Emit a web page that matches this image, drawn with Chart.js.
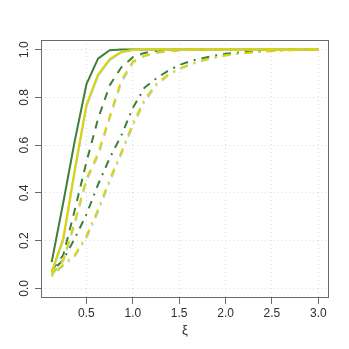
<!DOCTYPE html>
<html>
<head>
<meta charset="utf-8">
<script src="https://cdn.jsdelivr.net/npm/chart.js@4.4.1/dist/chart.umd.min.js"></script>
<style>
    html, body { margin: 0; padding: 0; background: #ffffff; }
    #wrap { width: 349px; height: 349px; }
</style>
</head>
<body>
<div id="wrap"><canvas id="powerChart" width="349" height="349"></canvas></div>
<script>
/* ===============================
   DATA
================================ */
const xi = [0.125, 0.25, 0.375, 0.5, 0.625, 0.75, 0.875, 1, 1.125, 1.25, 1.375, 1.5,
    1.625, 1.75, 1.875, 2, 2.125, 2.25, 2.375, 2.5, 2.625, 2.75, 2.875, 3];

const greenSolid = [0.11, 0.36, 0.62, 0.855, 0.962, 0.997, 1, 1, 1, 1, 1, 1,
    1, 1, 1, 1, 1, 1, 1, 1, 1, 1, 1, 1];
const blueSolid = [0.065, 0.2, 0.49, 0.76, 0.89, 0.955, 0.988, 0.998, 1, 1, 1, 1,
    1, 1, 1, 1, 1, 1, 1, 1, 1, 1, 1, 1];
const yellowSolid = [0.07, 0.21, 0.5, 0.77, 0.895, 0.96, 0.99, 0.999, 1, 1, 1, 1,
    1, 1, 1, 1, 1, 1, 1, 1, 1, 1, 1, 1];

const greenDashed = [0.075, 0.14, 0.33, 0.53, 0.71, 0.85, 0.925, 0.968, 0.986, 0.994, 0.998, 1,
    1, 1, 1, 1, 1, 1, 1, 1, 1, 1, 1, 1];
const blueDashed = [0.055, 0.115, 0.27, 0.45, 0.555, 0.71, 0.86, 0.945, 0.972, 0.985, 0.992, 0.996,
    0.999, 1, 1, 1, 1, 1, 1, 1, 1, 1, 1, 1];
const yellowDashed = [0.06, 0.12, 0.28, 0.46, 0.565, 0.72, 0.87, 0.95, 0.975, 0.987, 0.993, 0.997,
    0.999, 1, 1, 1, 1, 1, 1, 1, 1, 1, 1, 1];

const greenDotDash = [0.07, 0.12, 0.21, 0.31, 0.435, 0.545, 0.64, 0.755, 0.84, 0.878, 0.91, 0.935,
    0.952, 0.964, 0.974, 0.982, 0.987, 0.991, 0.994, 0.996, 0.998, 0.999, 1, 1];
const blueDotDash = [0.05, 0.095, 0.135, 0.21, 0.32, 0.445, 0.56, 0.68, 0.78, 0.848, 0.89, 0.917,
    0.937, 0.953, 0.965, 0.975, 0.981, 0.986, 0.99, 0.993, 0.996, 0.998, 0.999, 1];
const yellowDotDash = [0.055, 0.1, 0.14, 0.22, 0.33, 0.455, 0.57, 0.69, 0.79, 0.855, 0.893, 0.92,
    0.94, 0.955, 0.967, 0.976, 0.982, 0.987, 0.991, 0.994, 0.996, 0.998, 0.999, 1];

const xTicks = [0.5, 1.0, 1.5, 2.0, 2.5, 3.0];
const yTicks = [0.0, 0.2, 0.4, 0.6, 0.8, 1.0];

/* ===============================
   STYLE
================================ */
const GREEN = "#3c7f3c";
const YELLOW = "#e0d300";
const BLUE = "#a9d6ee";
const FRAME = "#6a6a6a";
const TEXT = "#2e2e2e";
const GRID = "#dcdcdc";

const SOLID = [];
const DASHED = [8, 7];
const DOTDASH = [2, 6, 8, 6];

function series(values, color, dash) {
    return {
        data: xi.map((x, i) => ({ x: x, y: values[i] })),
        borderColor: color,
        borderWidth: 2,
        borderDash: dash,
        borderCapStyle: "butt",
        borderJoinStyle: "round",
        pointRadius: 0,
        tension: 0,
        fill: false
    };
}

// first dataset is drawn on top
const datasets = [
    series(yellowSolid, YELLOW, SOLID),
    series(yellowDashed, YELLOW, DASHED),
    series(yellowDotDash, YELLOW, DOTDASH),
    series(blueSolid, BLUE, SOLID),
    series(blueDashed, BLUE, DASHED),
    series(blueDotDash, BLUE, DOTDASH),
    series(greenSolid, GREEN, SOLID),
    series(greenDashed, GREEN, DASHED),
    series(greenDotDash, GREEN, DOTDASH)
];

/* ===============================
   FRAME PLUGIN (box round plot)
================================ */
const framePlugin = {
    id: "frame",
    afterDraw(chart) {
        const a = chart.chartArea;
        const ctx = chart.ctx;
        ctx.save();
        ctx.strokeStyle = FRAME;
        ctx.lineWidth = 1;
        ctx.setLineDash([]);
        ctx.strokeRect(a.left + 0.5, a.top + 0.5, a.right - a.left - 1, a.bottom - a.top - 1);
        ctx.restore();
    }
};

const tickFont = { family: "'Liberation Sans', Arial, sans-serif", size: 12 };

new Chart(document.getElementById("powerChart"), {
    type: "line",
    data: { datasets: datasets },
    plugins: [framePlugin],
    options: {
        responsive: false,
        animation: false,
        events: [],
        layout: { padding: { top: 40, right: 20, bottom: 0, left: 0 } },
        plugins: {
            legend: { display: false },
            tooltip: { enabled: false }
        },
        scales: {
            x: {
                type: "linear",
                min: 0.01,
                max: 3.115,
                afterBuildTicks: s => { s.ticks = xTicks.map(v => ({ value: v })); },
                afterFit: s => { s.height = 51; },
                grid: {
                    color: GRID,
                    lineWidth: 1,
                    drawTicks: true,
                    tickLength: 6,
                    tickColor: FRAME,
                    tickWidth: 1
                },
                border: { display: false, dash: [1, 3] },
                ticks: {
                    color: TEXT,
                    font: tickFont,
                    padding: 2,
                    maxRotation: 0,
                    autoSkip: false,
                    callback: v => v.toFixed(1)
                },
                title: {
                    display: true,
                    text: "ξ",
                    color: TEXT,
                    font: { family: "'Liberation Sans', Arial, sans-serif", size: 13 },
                    padding: { top: 0, bottom: 11 }
                }
            },
            y: {
                type: "linear",
                min: -0.04,
                max: 1.04,
                afterBuildTicks: s => { s.ticks = yTicks.map(v => ({ value: v })); },
                afterFit: s => { s.width = 41; },
                grid: {
                    color: GRID,
                    lineWidth: 1,
                    drawTicks: true,
                    tickLength: 6,
                    tickColor: FRAME,
                    tickWidth: 1
                },
                border: { display: false, dash: [1, 3] },
                ticks: {
                    color: TEXT,
                    font: tickFont,
                    padding: 2,
                    minRotation: 90,
                    maxRotation: 90,
                    crossAlign: "center",
                    autoSkip: false,
                    callback: v => v.toFixed(1)
                }
            }
        }
    }
});
</script>
</body>
</html>
